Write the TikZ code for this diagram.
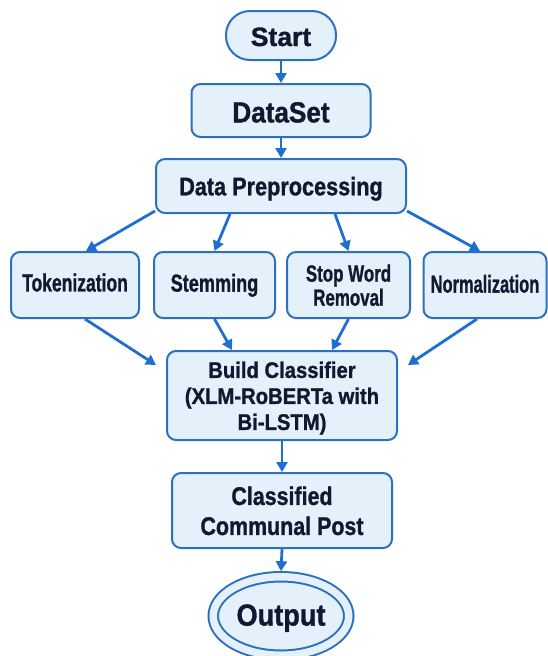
\documentclass[tikz,border=0pt]{standalone}
\usepackage{fontspec}
\setmainfont{Liberation Sans}[BoldFeatures={FakeBold=1.2}]
\usepackage{graphicx}
\usetikzlibrary{arrows.meta,calc,shapes.geometric}
\definecolor{boxfill}{HTML}{E4F1FB}
\definecolor{boxline}{HTML}{2D6FC0}
\definecolor{arrowc}{HTML}{1F6FD1}
\definecolor{textc}{HTML}{0F1A30}
% #1 x-stretch, #2 size, #3 line skip, #4 text, #5 extra top space (lowers the text by half of it)
\newcommand\lbl[5]{\vbox{\vskip#5\hbox{\scalebox{#1}[1]{\fontsize{#2}{#3}\selectfont\bfseries\begin{tabular}{@{}c@{}}#4\end{tabular}}}}}
\begin{document}
\begin{tikzpicture}[x=1pt,y=-1pt,
  box/.style={draw=boxline, fill=boxfill, line width=2pt, rounded corners=9pt, text=textc, inner sep=0pt},
  conn/.style={draw=arrowc, line width=2.8pt, -{Triangle[length=10pt,width=11pt]}}]
\fill[white] (0,0) rectangle (548,656);
\useasboundingbox (0,0) rectangle (548,656);

\node[box, rounded corners=24pt, minimum width=110pt, minimum height=49pt] (start) at (281,35.5) {\lbl{1.0}{26.5}{30}{Start}{9pt}};
\node[box, minimum width=179pt, minimum height=53pt] (ds) at (281,110.5) {\lbl{0.9}{29}{33}{DataSet}{10.6pt}};
\node[box, minimum width=250pt, minimum height=54pt] (dp) at (281,186) {\lbl{0.85}{25.5}{30}{Data Preprocessing}{6.6pt}};

\node[box, minimum width=128pt, minimum height=66pt] (tok) at (75,285) {\lbl{0.7}{25}{28}{Tokenization}{1.7pt}};
\node[box, minimum width=121pt, minimum height=66pt] (stem) at (214.5,285) {\lbl{0.74}{24.5}{28}{Stemming}{2pt}};
\node[box, minimum width=123pt, minimum height=66pt] (stop) at (348.5,285) {\lbl{0.72}{23.5}{23.5}{Stop Word\\Removal}{7.4pt}};
\node[box, minimum width=123pt, minimum height=66pt] (norm) at (485,285) {\lbl{0.67}{24.5}{28}{Normalization}{4pt}};

\node[box, minimum width=230pt, minimum height=89pt] (build) at (282,395.5) {\lbl{0.9}{22.5}{26}{Build Classifier\\(XLM-RoBERTa with\\Bi-LSTM)}{6.4pt}};
\node[box, minimum width=220pt, minimum height=75pt] (cls) at (282,510.5) {\lbl{0.84}{25.5}{30}{Classified\\Communal Post}{6.9pt}};

\node[ellipse, draw=boxline, line width=2pt, double=boxfill, double distance=7.5pt, fill=boxfill,
      minimum width=135.5pt, minimum height=78.5pt, inner sep=0pt, text=textc] (out) at (281,616) {\lbl{0.89}{30.5}{34}{Output}{5.6pt}};

\draw[conn] (start.south) -- (ds.north);
\draw[conn] (ds.south) -- (dp.north);
\draw[conn] ($(dp.south west)+(0,-3)$) -- ($(tok.north)+(11,0)$);
\draw[conn] ($(dp.south)+(-51,0)$) -- (stem.north);
\draw[conn] ($(dp.south)+(54,0)$) -- (stop.north);
\draw[conn] ($(dp.south east)+(0,-3)$) -- ($(norm.north)+(-5,0)$);

\draw[conn] ($(tok.south)+(10,0)$) -- ($(build.north west)+(-10,15)$);
\draw[conn] (stem.south) -- ($(build.north)+(-50,0)$);
\draw[conn] (stop.south) -- ($(build.north)+(50,0)$);
\draw[conn] ($(norm.south)+(-8,0)$) -- ($(build.north east)+(10,15)$);

\draw[conn] (build.south) -- (cls.north);
\draw[conn] (cls.south) -- ($(out.north)+(0,-4.5)$);
\end{tikzpicture}
\end{document}
